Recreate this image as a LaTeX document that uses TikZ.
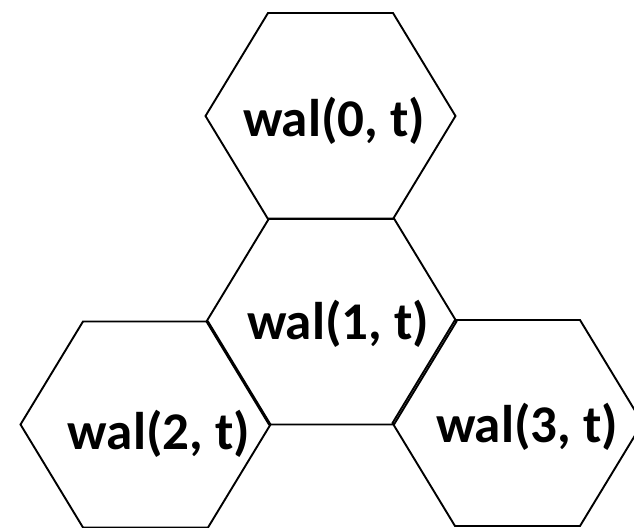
\documentclass[tikz,border=0pt]{standalone}
\usepackage{fontspec}
\setmainfont{Carlito}
\tikzset{
  cell/.style={line width=1.9pt, line join=miter},
  lbl/.style={font=\fontsize{53}{60}\selectfont\bfseries, inner sep=0pt},
  hexcell/.pic={
    \draw[cell] (-125,0) -- (-62.5,-103) -- (62.5,-103) -- (125,0)
      -- (62.5,103) -- (-62.5,103) -- cycle;
  }
}
\begin{document}
\begin{tikzpicture}[x=1pt,y=-1pt]
  \useasboundingbox (0,0) rectangle (634,527);
  \clip (0,0) rectangle (634,527);
  % hexagon cells
  \coordinate (c0) at (330.5,116);
  \coordinate (c1) at (331.5,321.5);
  \coordinate (c2) at (145.5,424.5);
  \coordinate (c3) at (517.5,423);
  \pic at (c0) {hexcell};
  \pic at (c1) {hexcell};
  \pic at (c2) {hexcell};
  \pic at (c3) {hexcell};
  % labels
  \node[lbl] (w0) at (334,121) {wal(0, t)};
  \node[lbl] (w1) at (338,324) {wal(1, t)};
  \node[lbl] (w2) at (159,434) {wal(2, t)};
  \node[lbl] (w3) at (527,427) {wal(3, t)};
\end{tikzpicture}
\end{document}
